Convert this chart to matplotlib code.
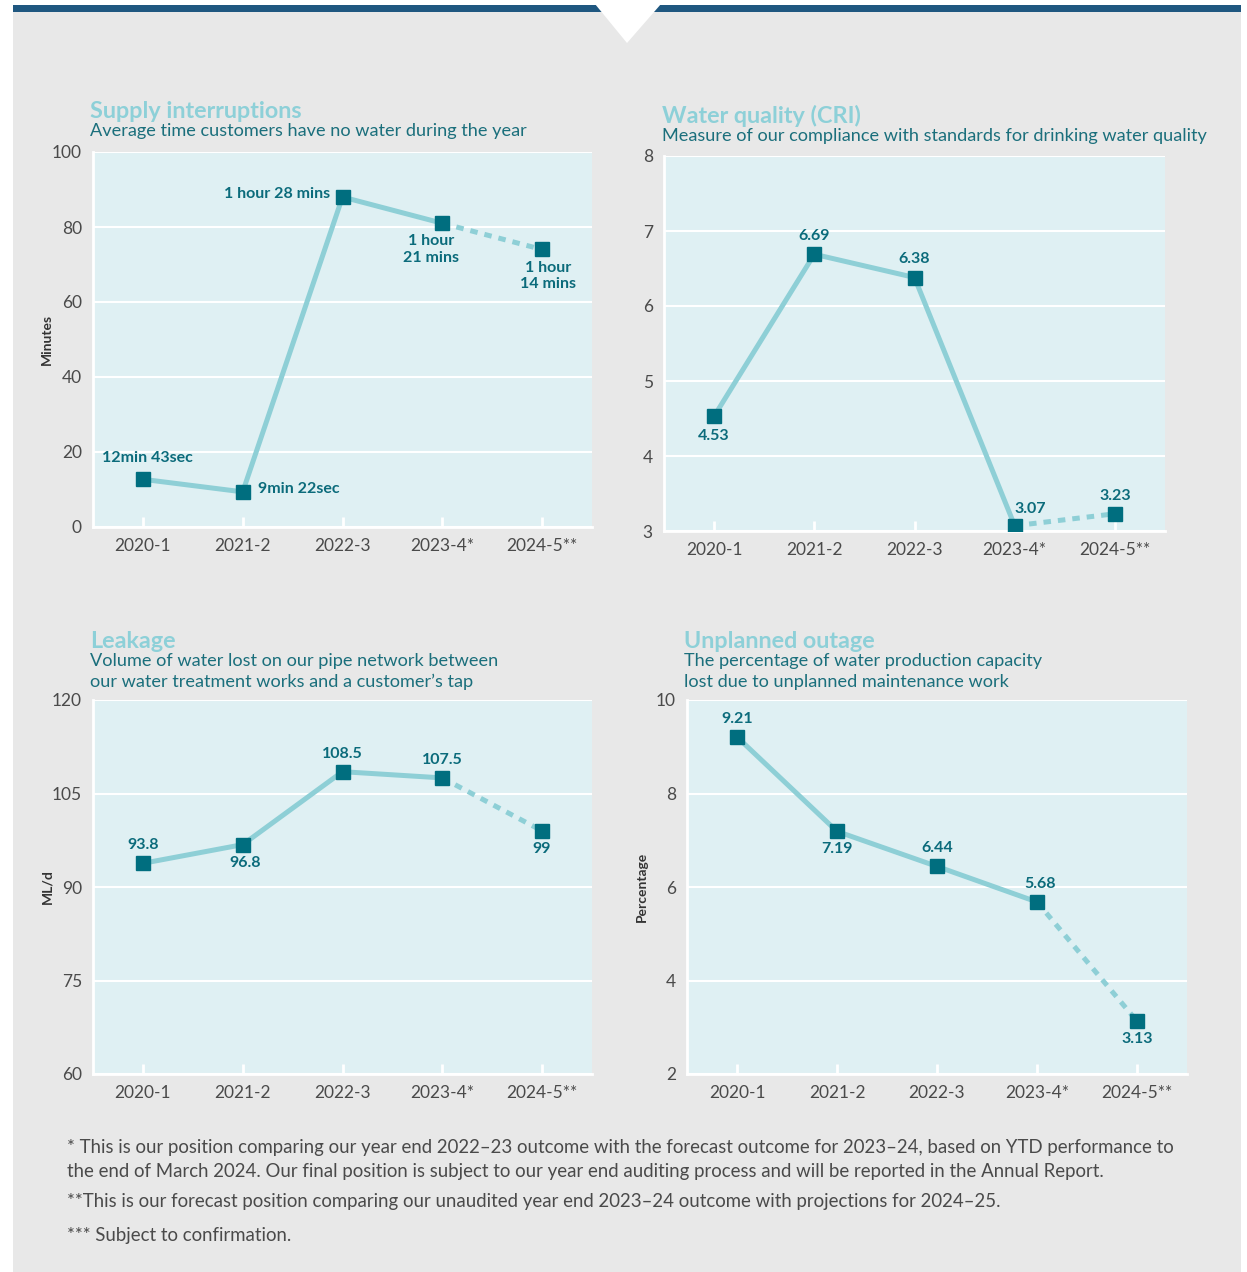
import matplotlib
matplotlib.use("Agg")
import matplotlib.pyplot as plt
from matplotlib.patches import Rectangle, Polygon

plt.rcParams['font.family'] = ['Lato', 'DejaVu Sans']

categories = ["2020-1", "2021-2", "2022-3", "2023-4*", "2024-5**"]

supply_values = [12.72, 9.37, 88, 81, 74]
supply_labels = ["12min 43sec", "9min 22sec", "1 hour 28 mins", "1 hour\n21 mins", "1 hour\n14 mins"]

quality_values = [4.53, 6.69, 6.38, 3.07, 3.23]
quality_labels = ["4.53", "6.69", "6.38", "3.07", "3.23"]

leakage_values = [93.8, 96.8, 108.5, 107.5, 99]
leakage_labels = ["93.8", "96.8", "108.5", "107.5", "99"]

outage_values = [9.21, 7.19, 6.44, 5.68, 3.13]
outage_labels = ["9.21", "7.19", "6.44", "5.68", "3.13"]

W, H = 1247, 1272
fig = plt.figure(figsize=(W/100, H/100), dpi=100)
fig.patch.set_facecolor('white')

BG = '#e8e8e8'
PANEL = '#dff0f3'
LINE = '#8ecfd6'
MARK = '#006e7f'
LAB = '#0b6b7b'
TITLE = '#8dd0d8'
SUB = '#1b6f7c'
TICK = '#4a4a4a'

def fx(x): return x / W
def fy(y): return 1 - y / H

# background
fig.patches.append(Rectangle((fx(13), 0), fx(1241) - fx(13), fy(12), transform=fig.transFigure,
                             facecolor=BG, edgecolor='none', zorder=-10))
fig.patches.append(Rectangle((fx(13), fy(12)), fx(1241) - fx(13), fy(5) - fy(12), transform=fig.transFigure,
                             facecolor='#1f5780', edgecolor='none', zorder=-9))
fig.patches.append(Polygon([(fx(595), fy(4)), (fx(661), fy(4)), (fx(627), fy(43))], closed=True,
                           transform=fig.transFigure, facecolor='white', edgecolor='none', zorder=-8))


def make_ax(l, t, r, b, ylim, yticks, values, labels, offsets, ylabel=None, ylabel_x=None):
    ax = fig.add_axes([fx(l), fy(b), (r - l) / W, (b - t) / H])
    ax.set_facecolor(PANEL)
    x = list(range(len(values)))
    ax.plot(x[:4], values[:4], color=LINE, lw=3.6, zorder=2, solid_capstyle='butt')
    ax.plot(x[3:], values[3:], color=LINE, lw=3.6, ls=(0, (1.5, 1.4)), zorder=2)
    ax.plot(x, values, ls='none', marker='s', ms=10, color=MARK, zorder=3)
    for xi, v, lab, (dx, dy, ha, va) in zip(x, values, labels, offsets):
        ax.annotate(lab, (xi, v), xytext=(dx, dy), textcoords='offset points', ha=ha, va=va,
                    color=LAB, fontsize=11.5, fontweight='bold', linespacing=1.2)
    ax.set_xlim(-0.5, 4.5)
    ax.set_ylim(*ylim)
    ax.set_yticks(yticks)
    ax.set_xticks(x)
    ax.set_xticklabels(categories)
    ax.grid(axis='y', color='white', lw=1.5)
    ax.set_axisbelow(True)
    for s in ['top', 'right']:
        ax.spines[s].set_visible(False)
    for s in ['left', 'bottom']:
        ax.spines[s].set_color('white')
        ax.spines[s].set_linewidth(2)
    ax.tick_params(axis='x', direction='in', length=7, width=2, color='white',
                   labelsize=12.5, pad=8)
    ax.tick_params(axis='y', length=0, labelsize=12.5, pad=8)
    for lbl in ax.get_xticklabels() + ax.get_yticklabels():
        lbl.set_color(TICK)
    if ylabel:
        fig.text(fx(ylabel_x), fy((t + b) / 2), ylabel, rotation=90, ha='center', va='center',
                 fontsize=10, fontweight='bold', color='#333333')
    return ax

# Chart 1
make_ax(93, 152, 592, 527, (0, 100), [0, 20, 40, 60, 80, 100], supply_values, supply_labels,
        [(3, 10, 'center', 'bottom'), (11, 2, 'left', 'center'), (-9, 2, 'right', 'center'),
         (-8, -8, 'center', 'top'), (4, -8, 'center', 'top')],
        ylabel='Minutes', ylabel_x=47)
fig.text(fx(90), fy(111), "Supply interruptions", fontsize=16.8, fontweight='bold', color=TITLE, va='center')
fig.text(fx(90), fy(131), "Average time customers have no water during the year", fontsize=13.1, color=SUB, va='center')

# Chart 2
make_ax(664, 156, 1165, 531, (3, 8), [3, 4, 5, 6, 7, 8], quality_values, quality_labels,
        [(0, -9, 'center', 'top'), (0, 8, 'center', 'bottom'), (0, 8, 'center', 'bottom'),
         (11, 7, 'center', 'bottom'), (0, 8, 'center', 'bottom')])
fig.text(fx(662), fy(116), "Water quality (CRI)", fontsize=16.8, fontweight='bold', color=TITLE, va='center')
fig.text(fx(662), fy(136), "Measure of our compliance with standards for drinking water quality", fontsize=13.1, color=SUB, va='center')

# Chart 3
make_ax(93, 700, 592, 1074, (60, 120), [60, 75, 90, 105, 120], leakage_values, leakage_labels,
        [(0, 8, 'center', 'bottom'), (2, -8, 'center', 'top'), (0, 8, 'center', 'bottom'),
         (0, 8, 'center', 'bottom'), (0, -8, 'center', 'top')],
        ylabel='ML/d', ylabel_x=47)
fig.text(fx(90), fy(641), "Leakage", fontsize=16.8, fontweight='bold', color=TITLE, va='center')
fig.text(fx(90), fy(661), "Volume of water lost on our pipe network between", fontsize=13.1, color=SUB, va='center')
fig.text(fx(90), fy(682), "our water treatment works and a customer\u2019s tap", fontsize=13.1, color=SUB, va='center')

# Chart 4
make_ax(687, 700, 1187, 1074, (2, 10), [2, 4, 6, 8, 10], outage_values, outage_labels,
        [(0, 8, 'center', 'bottom'), (0, -8, 'center', 'top'), (0, 8, 'center', 'bottom'),
         (2, 8, 'center', 'bottom'), (0, -8, 'center', 'top')],
        ylabel='Percentage', ylabel_x=642)
fig.text(fx(684), fy(641), "Unplanned outage", fontsize=16.8, fontweight='bold', color=TITLE, va='center')
fig.text(fx(684), fy(661), "The percentage of water production capacity", fontsize=13.1, color=SUB, va='center')
fig.text(fx(684), fy(682), "lost due to unplanned maintenance work", fontsize=13.1, color=SUB, va='center')

# Footnotes
notes = [
    (1148, "* This is our position comparing our year end 2022\u201323 outcome with the forecast outcome for 2023\u201324, based on YTD performance to"),
    (1171, "the end of March 2024. Our final position is subject to our year end auditing process and will be reported in the Annual Report."),
    (1202, "**This is our forecast position comparing our unaudited year end 2023\u201324 outcome with projections for 2024\u201325."),
    (1235, "*** Subject to confirmation."),
]
for y, t in notes:
    fig.text(fx(67), fy(y), t, fontsize=13.4, color=TICK, va='center')

fig.savefig("out.png", dpi=100, facecolor=fig.get_facecolor())
